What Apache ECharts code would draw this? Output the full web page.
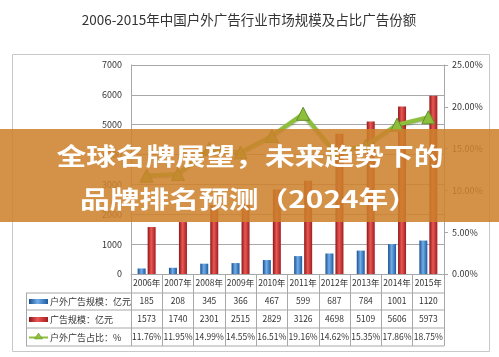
<!DOCTYPE html>
<html><head><meta charset="utf-8">
<script src="https://cdn.jsdelivr.net/npm/echarts@6/dist/echarts.min.js"></script>
<style>html,body{margin:0;padding:0;background:#fff}#c{width:499px;height:357px}</style>
</head><body><div id="c"></div>
<script>
var years = ['2006年','2007年','2008年','2009年','2010年','2011年','2012年','2013年','2014年','2015年'];
var outdoorScale = [185,208,345,366,467,599,687,784,1001,1120];
var adScale = [1573,1740,2301,2515,2829,3126,4698,5109,5606,5973];
var outdoorShare = [11.76,11.95,14.99,14.55,16.51,19.16,14.62,15.35,17.86,18.75];
var seriesNames = ['户外广告规模：亿元','广告规模：亿元','户外广告占比：%'];
var titleText = '2006-2015年中国户外广告行业市场规模及占比广告份额';
var bannerLines = ['全球名牌展望，未来趋势下的','品牌排名预测（2024年）'];

var chart = echarts.init(document.getElementById('c'));
var F = '"Noto Sans CJK SC", "DejaVu Sans", sans-serif';
var gridL = 131, gridR = 444, gridT = 65, gridB = 274;
var rowH = 18;
function hline(x1,x2,y){return {type:'line',shape:{x1:x1,y1:y,x2:x2,y2:y},style:{stroke:'#a8a8a8',lineWidth:1},z:5};}
function grad(c1,c2,c3){return new echarts.graphic.LinearGradient(0,0,1,0,[{offset:0,color:c1},{offset:0.45,color:c2},{offset:1,color:c3}]);}
var blueG = grad('#1a4e8e','#72aeea','#1d5aa0');
var redG = grad('#8e1518','#ea5853','#a01d20');

var graphics = [
  {type:'rect',shape:{x:12.5,y:54.5,width:477,height:297},style:{fill:'none',stroke:'#c8c8c8',lineWidth:1},z:1},
  hline(26, gridR, gridB+rowH+1),
  hline(26, gridR, gridB+2*rowH),
  hline(26, gridR, gridB+3*rowH),
  hline(26, gridR, gridB+4*rowH),
  {type:'line',shape:{x1:26.5,y1:gridB+rowH+1,x2:26.5,y2:gridB+4*rowH},style:{stroke:'#a8a8a8',lineWidth:1},z:5},
  {type:'rect',shape:{x:29,y:gridB+rowH+7,width:19,height:5},style:{fill:blueG},z:6},
  {type:'rect',shape:{x:29,y:gridB+2*rowH+7,width:19,height:5},style:{fill:redG},z:6},
  {type:'line',shape:{x1:29,y1:gridB+3*rowH+9.5,x2:48,y2:gridB+3*rowH+9.5},style:{stroke:'#8dbf3c',lineWidth:2},z:6},
  {type:'polygon',shape:{points:[[38.5,gridB+3*rowH+5],[42.5,gridB+3*rowH+11],[34.5,gridB+3*rowH+11]]},style:{fill:'#8dbf3c',stroke:'#5f8f25',lineWidth:0.5},z:7},
  {type:'text',x:50,y:gridB+rowH+10,style:{text:seriesNames[0],font:'9px '+F,fill:'#333',textVerticalAlign:'middle'},z:6},
  {type:'text',x:50,y:gridB+2*rowH+10,style:{text:seriesNames[1],font:'9px '+F,fill:'#333',textVerticalAlign:'middle'},z:6},
  {type:'text',x:50,y:gridB+3*rowH+10,style:{text:seriesNames[2],font:'9px '+F,fill:'#333',textVerticalAlign:'middle'},z:6},
  {type:'text',x:249,y:20,style:{text:titleText,font:'13.5px '+F,fill:'#333',textAlign:'center',textVerticalAlign:'middle'},z:6},
  {type:'rect',shape:{x:0,y:129,width:499,height:93},style:{fill:'rgba(205,130,45,0.87)'},z:100},
  {type:'text',x:250,y:156,scaleX:1.24,originX:0,originY:0,style:{text:bannerLines[0],font:'bold 24px '+F,fill:'#fff',textAlign:'center',textVerticalAlign:'middle'},z:101},
  {type:'text',x:249,y:199,scaleX:1.24,originX:0,originY:0,style:{text:bannerLines[1],font:'bold 24px '+F,fill:'#fff',textAlign:'center',textVerticalAlign:'middle'},z:101}
];

chart.setOption({
  animation:false,
  backgroundColor:'#fff',
  grid:{left:gridL,right:499-gridR,top:gridT,bottom:357-gridB},
  xAxis:{
    type:'category',data:years,boundaryGap:true,
    axisLine:{show:true,lineStyle:{color:'#a8a8a8'}},
    axisTick:{show:true,interval:0,length:rowH*4,lineStyle:{color:'#a8a8a8'}},
    axisLabel:{interval:0,margin:0,
      formatter:function(v,i){return '{y|'+v+'}\n{v|'+outdoorScale[i]+'}\n{v|'+adScale[i]+'}\n{v|'+outdoorShare[i].toFixed(2)+'%}';},
      rich:{y:{fontSize:8.5,lineHeight:rowH,color:'#333',fontFamily:F},v:{fontSize:8.5,lineHeight:rowH,color:'#333',fontFamily:F}}
    }
  },
  yAxis:[
    {type:'value',min:0,max:7000,interval:1000,
     axisLine:{show:true,lineStyle:{color:'#a8a8a8'}},axisTick:{show:false},
     splitLine:{lineStyle:{color:'#a8a8a8'}},
     axisLabel:{fontSize:9,color:'#333',margin:9,fontFamily:F,formatter:function(v){return String(v);}}},
    {type:'value',min:0,max:25,interval:5,position:'right',
     axisLine:{show:true,lineStyle:{color:'#a8a8a8'}},axisTick:{show:true,length:4,lineStyle:{color:'#a8a8a8'}},
     splitLine:{show:false},
     axisLabel:{fontSize:9,color:'#333',margin:8,fontFamily:F,formatter:function(v){return v.toFixed(2)+'%';}}}
  ],
  series:[
    {name:seriesNames[0],type:'bar',data:outdoorScale,barWidth:8,barGap:'25%',itemStyle:{color:blueG},z:3},
    {name:seriesNames[1],type:'bar',data:adScale,barWidth:8,itemStyle:{color:redG},z:3},
    {name:seriesNames[2],type:'line',yAxisIndex:1,data:outdoorShare,symbol:'triangle',symbolSize:13,
     lineStyle:{color:'#8dbf3c',width:4,shadowColor:'rgba(60,90,20,0.5)',shadowBlur:2,shadowOffsetY:1},
     itemStyle:{color:'#8dbf3c',borderColor:'#5f8f25',borderWidth:1},z:4}
  ],
  graphic:graphics
});
</script></body></html>
